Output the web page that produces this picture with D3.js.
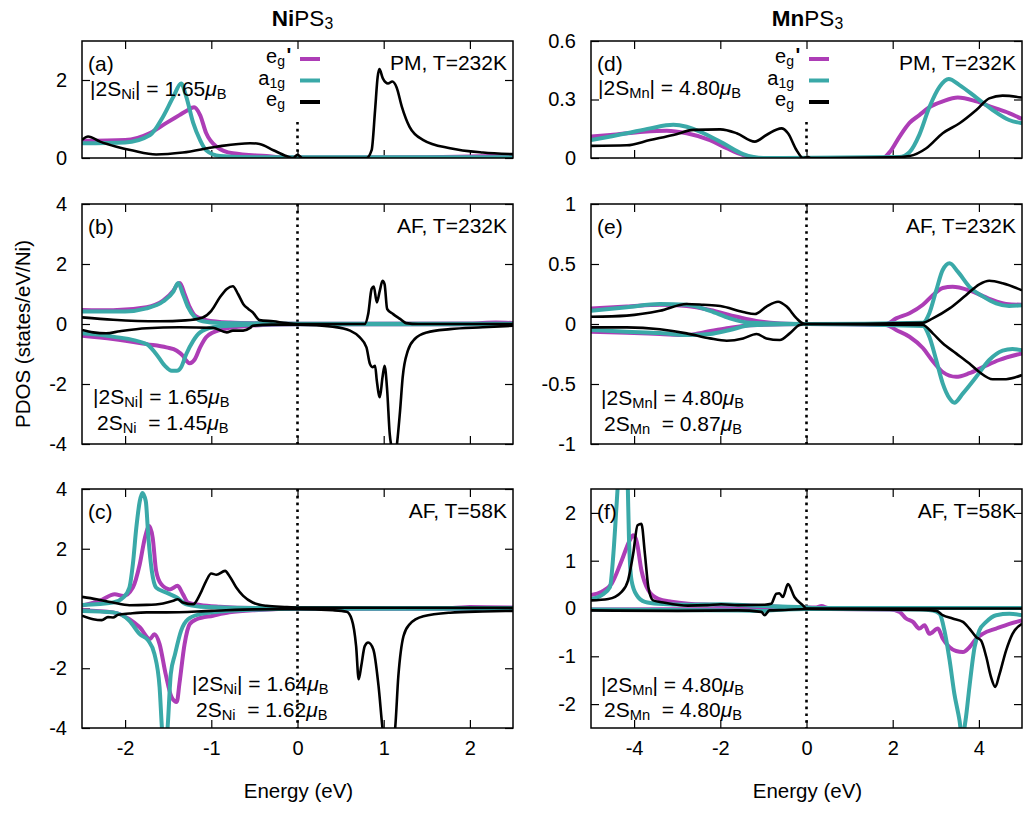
<!DOCTYPE html>
<html><head><meta charset="utf-8">
<script src="https://cdn.jsdelivr.net/npm/d3@7"></script>
<style>body{margin:0;background:#fff} svg{font-family:"Liberation Sans",Arial,Helvetica,sans-serif}</style>
</head><body><svg id="chart" width="1024" height="813"></svg>
<script>
// ---------- tick labels ----------
const niXTicks = [-2, -1, 0, 1, 2];
const mnXTicks = [-4, -2, 0, 2, 4];
const aYTicks = [0, 2];
const bYTicks = [-4, -2, 0, 2, 4];
const cYTicks = [-4, -2, 0, 2, 4];
const dYTicks = [0, 0.3, 0.6];
const eYTicks = [-1, -0.5, 0, 0.5, 1];
const fYTicks = [-2, -1, 0, 1, 2];
const seriesNames = ["e_g'", "a_1g", "e_g"];

// ---------- (a) NiPS3 PM T=232K ----------
const a_egp = [[-2.5,0.44],[-2.0,0.46],[-1.71,0.64],[-1.52,0.9],[-1.37,1.1],[-1.28,1.22],[-1.2,1.3],[-1.13,1.1],[-1.06,0.64],[-0.94,0.29],[-0.75,0.12],[-0.36,0.05],[-0.1,0.01],[0.5,0.01],[1.5,0.02],[2.0,0.04],[2.5,0.06]];
const a_a1g = [[-2.5,0.38],[-2.0,0.4],[-1.71,0.59],[-1.56,1.06],[-1.44,1.57],[-1.35,1.91],[-1.29,1.57],[-1.21,0.9],[-1.13,0.46],[-1.06,0.2],[-0.9,0.05],[-0.5,0.02],[2.5,0.02]];
const a_eg = [[-2.5,0.46],[-2.43,0.55],[-2.29,0.42],[-2.1,0.29],[-1.91,0.19],[-1.64,0.09],[-1.33,0.14],[-0.94,0.29],[-0.55,0.38],[-0.44,0.36],[-0.28,0.2],[-0.13,0.05],[-0.05,0.0],[0.0,0.08],[0.06,0.0],[0.8,0.0],[0.86,0.2],[0.9,1.23],[0.93,2.08],[0.95,2.28],[0.99,2.04],[1.05,1.91],[1.1,1.96],[1.15,1.81],[1.21,1.32],[1.3,0.8],[1.46,0.46],[1.77,0.25],[2.15,0.14],[2.5,0.1]];

// ---------- (b) NiPS3 AF T=232K ----------
const b_egp_up = [[-2.5,0.47],[-2.14,0.46],[-1.75,0.56],[-1.56,0.78],[-1.44,1.11],[-1.39,1.33],[-1.365,1.37],[-1.31,1.0],[-1.25,0.56],[-1.19,0.28],[-1.06,0.13],[-0.79,0.05],[-0.4,0.02],[0,0.01],[2.0,0.02],[2.3,0.05],[2.5,0.03]];
const b_a1g_up = [[-2.5,0.42],[-2.0,0.42],[-1.75,0.52],[-1.56,0.75],[-1.44,1.08],[-1.385,1.37],[-1.33,1.0],[-1.27,0.56],[-1.19,0.22],[-1.1,0.09],[-0.9,0.03],[0,0.01],[2.5,0.01]];
const b_eg_up = [[-2.5,0.22],[-2.14,0.14],[-1.6,0.09],[-1.3,0.12],[-1.1,0.22],[-1.0,0.44],[-0.9,0.89],[-0.82,1.17],[-0.75,1.26],[-0.69,1.0],[-0.63,0.67],[-0.57,0.5],[-0.52,0.39],[-0.44,0.13],[-0.28,0.09],[-0.13,0.03],[0.0,0.0],[0.78,0.0],[0.82,0.33],[0.86,1.17],[0.885,1.25],[0.92,0.72],[0.955,1.11],[0.986,1.44],[1.01,1.33],[1.04,0.5],[1.11,0.33],[1.19,0.17],[1.26,0.03],[1.4,0.0],[2.5,0.0]];
const b_egp_dn = [[-2.5,-0.39],[-2.14,-0.5],[-1.75,-0.67],[-1.52,-0.78],[-1.4,-0.89],[-1.33,-1.06],[-1.29,-1.22],[-1.25,-1.31],[-1.19,-1.17],[-1.13,-0.78],[-1.06,-0.44],[-0.98,-0.28],[-0.79,-0.13],[-0.59,-0.07],[-0.4,-0.03],[0,-0.01],[2.5,-0.01]];
const b_a1g_dn = [[-2.5,-0.31],[-2.14,-0.42],[-1.75,-0.67],[-1.64,-1.0],[-1.54,-1.39],[-1.46,-1.56],[-1.4,-1.56],[-1.35,-1.44],[-1.29,-1.0],[-1.21,-0.56],[-1.13,-0.28],[-0.98,-0.11],[-0.79,-0.06],[-0.5,-0.02],[0,-0.01],[2.5,-0.01]];
const b_eg_dn = [[-2.5,-0.2],[-2.37,-0.28],[-2.22,-0.31],[-2.06,-0.24],[-1.75,-0.14],[-1.37,-0.11],[-0.98,-0.13],[-0.82,-0.28],[-0.75,-0.22],[-0.63,-0.22],[-0.55,-0.13],[-0.52,-0.06],[-0.3,-0.02],[0.03,-0.02],[0.41,-0.09],[0.61,-0.22],[0.72,-0.44],[0.8,-0.78],[0.84,-1.33],[0.87,-1.44],[0.9,-1.39],[0.92,-1.89],[0.955,-2.44],[0.986,-1.78],[1.01,-1.39],[1.04,-2.2],[1.07,-3.67],[1.09,-4.1],[1.12,-4.6],[1.15,-4.1],[1.19,-2.89],[1.22,-1.78],[1.28,-0.89],[1.36,-0.5],[1.5,-0.28],[1.77,-0.17],[2.15,-0.11],[2.5,-0.06]];

// ---------- (c) NiPS3 AF T=58K ----------
const c_egp_up = [[-2.5,0.1],[-2.29,0.26],[-2.12,0.48],[-2.02,0.42],[-1.91,0.7],[-1.83,1.48],[-1.77,2.37],[-1.72,2.76],[-1.68,2.37],[-1.64,1.26],[-1.58,0.81],[-1.48,0.64],[-1.39,0.76],[-1.33,0.48],[-1.27,0.2],[-1.13,0.12],[-0.9,0.06],[-0.5,0.02],[1.8,0.02],[2.0,0.05],[2.5,0.03]];
const c_a1g_up = [[-2.5,0.12],[-2.14,0.2],[-2.02,0.37],[-1.95,0.7],[-1.91,1.48],[-1.87,2.7],[-1.83,3.59],[-1.8,3.87],[-1.76,3.59],[-1.73,2.37],[-1.69,1.26],[-1.64,0.7],[-1.52,0.53],[-1.4,0.37],[-1.29,0.14],[-1.06,0.05],[-0.5,0.02],[2.5,0.02]];
const c_eg_up = [[-2.5,0.39],[-2.33,0.31],[-2.14,0.2],[-1.95,0.11],[-1.75,0.12],[-1.56,0.17],[-1.44,0.26],[-1.39,0.31],[-1.33,0.2],[-1.21,0.14],[-1.13,0.48],[-1.06,0.92],[-1.0,1.17],[-0.94,1.13],[-0.84,1.26],[-0.79,1.09],[-0.71,0.7],[-0.63,0.42],[-0.52,0.2],[-0.36,0.09],[-0.15,0.05],[0.03,0.03],[2.5,0.02]];
const c_egp_dn = [[-2.5,-0.06],[-2.14,-0.13],[-1.95,-0.36],[-1.83,-0.63],[-1.71,-1.02],[-1.66,-0.86],[-1.6,-1.19],[-1.53,-2.19],[-1.46,-2.97],[-1.4,-3.13],[-1.37,-2.52],[-1.31,-1.19],[-1.25,-0.52],[-1.17,-0.36],[-0.98,-0.24],[-0.79,-0.13],[-0.45,-0.05],[0,-0.01],[2.5,-0.01]];
const c_a1g_dn = [[-2.5,-0.08],[-2.14,-0.13],[-1.95,-0.41],[-1.83,-0.86],[-1.73,-1.08],[-1.66,-1.52],[-1.6,-2.63],[-1.57,-4.1],[-1.54,-4.6],[-1.51,-4.1],[-1.47,-2.19],[-1.42,-1.52],[-1.35,-0.74],[-1.27,-0.36],[-1.13,-0.19],[-0.9,-0.1],[-0.6,-0.05],[0,-0.01],[2.5,-0.01]];
const c_eg_dn = [[-2.5,-0.24],[-2.37,-0.36],[-2.27,-0.39],[-2.2,-0.29],[-2.14,-0.3],[-2.08,-0.21],[-1.95,-0.17],[-1.75,-0.13],[-1.52,-0.13],[-1.0,-0.08],[-0.5,-0.03],[0.0,-0.02],[0.41,-0.06],[0.57,-0.11],[0.63,-0.37],[0.68,-1.26],[0.71,-2.37],[0.74,-1.92],[0.78,-1.26],[0.82,-1.14],[0.88,-1.37],[0.94,-2.59],[0.99,-4.1],[1.06,-5],[1.13,-4.1],[1.17,-2.26],[1.23,-0.92],[1.3,-0.53],[1.46,-0.26],[1.77,-0.14],[2.15,-0.1],[2.5,-0.08]];

// ---------- (d) MnPS3 PM T=232K ----------
const d_egp = [[-5,0.11],[-4.55,0.118],[-3.78,0.135],[-3.24,0.14],[-2.78,0.127],[-2.24,0.092],[-1.85,0.05],[-1.47,0.015],[-1.08,0.0],[1.77,0.0],[1.93,0.03],[2.16,0.11],[2.39,0.18],[2.62,0.22],[2.85,0.26],[3.16,0.29],[3.51,0.31],[3.94,0.29],[4.32,0.26],[4.7,0.23],[5,0.2]];
const d_a1g = [[-5,0.092],[-4.17,0.127],[-3.63,0.152],[-3.09,0.17],[-2.78,0.16],[-2.39,0.127],[-1.93,0.075],[-1.47,0.02],[-1.0,0.0],[2.16,0.005],[2.39,0.03],[2.62,0.12],[2.85,0.26],[3.09,0.366],[3.3,0.405],[3.55,0.374],[3.94,0.31],[4.32,0.246],[4.7,0.195],[5,0.178]];
const d_eg = [[-5,0.062],[-4.17,0.065],[-3.63,0.092],[-3.09,0.118],[-2.62,0.144],[-2.0,0.147],[-1.62,0.127],[-1.2,0.084],[-0.93,0.118],[-0.58,0.152],[-0.43,0.127],[-0.23,0.04],[-0.08,0.0],[0.04,0.005],[0.1,0.0],[2.0,0.003],[2.39,0.01],[2.78,0.05],[3.16,0.127],[3.55,0.178],[3.94,0.246],[4.24,0.306],[4.55,0.32],[5,0.31]];

// ---------- (e) MnPS3 AF T=232K ----------
const e_egp_up = [[-5,0.13],[-4.17,0.145],[-3.4,0.16],[-2.78,0.15],[-2.24,0.117],[-1.62,0.06],[-1.08,0.02],[-0.6,0.005],[0,0],[1.85,0.0],[2.08,0.047],[2.39,0.09],[2.7,0.16],[2.93,0.24],[3.16,0.3],[3.39,0.31],[3.78,0.28],[4.24,0.21],[4.63,0.167],[5,0.16]];
const e_a1g_up = [[-5,0.11],[-4.17,0.14],[-3.4,0.167],[-2.78,0.16],[-2.24,0.11],[-1.78,0.047],[-1.31,0.01],[0,0],[2.7,0.01],[2.85,0.09],[3.01,0.28],[3.16,0.45],[3.32,0.506],[3.51,0.436],[3.78,0.31],[4.09,0.23],[4.4,0.172],[4.7,0.15],[5,0.157]];
const e_eg_up = [[-5,0.06],[-4.17,0.07],[-3.4,0.11],[-2.78,0.167],[-2.39,0.16],[-2.0,0.15],[-1.47,0.1],[-1.2,0.083],[-0.93,0.145],[-0.66,0.186],[-0.46,0.145],[-0.23,0.047],[-0.08,0.005],[0,0],[2.7,0.01],[2.93,0.047],[3.32,0.13],[3.7,0.24],[4.01,0.33],[4.24,0.36],[4.55,0.34],[5,0.28]];
const e_egp_dn = [[-5,-0.064],[-4.17,-0.072],[-3.4,-0.083],[-2.78,-0.092],[-2.39,-0.07],[-1.85,-0.036],[-1.3,-0.01],[0,0],[1.85,-0.008],[2.08,-0.05],[2.39,-0.106],[2.7,-0.2],[2.93,-0.31],[3.16,-0.4],[3.47,-0.44],[3.78,-0.41],[4.09,-0.36],[4.47,-0.3],[5,-0.245]];
const e_a1g_dn = [[-5,-0.05],[-4.17,-0.064],[-3.4,-0.075],[-2.78,-0.092],[-2.24,-0.083],[-1.78,-0.05],[-1.3,-0.01],[0,0],[2.7,-0.017],[2.85,-0.106],[3.01,-0.3],[3.16,-0.494],[3.32,-0.62],[3.43,-0.656],[3.63,-0.578],[3.94,-0.44],[4.24,-0.3],[4.55,-0.222],[4.78,-0.208],[5,-0.22]];
const e_eg_dn = [[-5,-0.028],[-4.17,-0.028],[-3.4,-0.044],[-2.78,-0.078],[-2.24,-0.12],[-1.85,-0.139],[-1.47,-0.12],[-1.16,-0.083],[-0.93,-0.12],[-0.62,-0.133],[-0.39,-0.078],[-0.16,-0.008],[0,0],[2.7,-0.008],[2.93,-0.078],[3.16,-0.16],[3.47,-0.245],[3.78,-0.33],[4.01,-0.4],[4.32,-0.46],[4.63,-0.46],[5,-0.425]];

// ---------- (f) MnPS3 AF T=58K ----------
const f_egp_up = [[-5,0.28],[-4.75,0.35],[-4.52,0.52],[-4.29,1.0],[-4.1,1.43],[-4.02,1.53],[-3.94,1.4],[-3.83,0.8],[-3.67,0.38],[-3.44,0.2],[-3.13,0.14],[-2.75,0.1],[-2.2,0.08],[-1.2,0.06],[-0.1,0.02],[0.2,0.02],[0.35,0.05],[0.5,0.01],[5,0.01]];
const f_a1g_up = [[-5,0.2],[-4.75,0.28],[-4.56,0.45],[-4.48,1.15],[-4.41,2.12],[-4.37,2.7],[-4.26,4.5],[-4.15,2.7],[-4.12,1.5],[-4.06,0.59],[-3.94,0.28],[-3.75,0.14],[-3.44,0.1],[-2.75,0.08],[-2.0,0.09],[-1.2,0.06],[-0.9,0.05],[-0.1,0.03],[0.2,0.01],[5,0.01]];
const f_eg_up = [[-5,0.17],[-4.6,0.2],[-4.29,0.35],[-4.14,0.59],[-4.02,1.15],[-3.92,1.74],[-3.83,1.77],[-3.75,1.15],[-3.67,0.45],[-3.56,0.17],[-3.29,0.12],[-2.75,0.06],[-2.3,0.07],[-1.98,0.09],[-1.59,0.07],[-0.97,0.08],[-0.82,0.1],[-0.7,0.31],[-0.63,0.32],[-0.55,0.24],[-0.43,0.51],[-0.28,0.24],[-0.09,0.07],[0,0.0],[5,0.0]];
const f_egp_dn = [[-5,-0.02],[0,-0.01],[1.93,-0.02],[2.16,-0.07],[2.31,-0.21],[2.47,-0.28],[2.62,-0.42],[2.74,-0.35],[2.85,-0.53],[3.05,-0.42],[3.16,-0.63],[3.32,-0.81],[3.47,-0.89],[3.63,-0.91],[3.78,-0.81],[3.94,-0.63],[4.09,-0.53],[4.4,-0.42],[4.71,-0.32],[5,-0.25]];
const f_a1g_dn = [[-5,-0.02],[-1.5,-0.04],[-1.0,-0.05],[-0.5,-0.02],[0,-0.01],[2.62,-0.02],[2.93,-0.04],[3.09,-0.11],[3.2,-0.46],[3.32,-1.08],[3.43,-1.78],[3.55,-2.34],[3.61,-2.7],[3.69,-2.34],[3.78,-1.64],[3.9,-0.81],[4.01,-0.46],[4.17,-0.28],[4.4,-0.14],[4.71,-0.11],[5,-0.14]];
const f_eg_dn = [[-5,-0.04],[-3,-0.05],[-1.59,-0.04],[-1.05,-0.07],[-0.97,-0.14],[-0.86,-0.04],[-0.5,-0.03],[0,-0.01],[2.7,-0.03],[3.01,-0.05],[3.16,-0.14],[3.39,-0.21],[3.63,-0.28],[3.78,-0.42],[3.94,-0.6],[4.05,-0.67],[4.17,-1.01],[4.28,-1.43],[4.38,-1.64],[4.47,-1.4],[4.63,-0.88],[4.78,-0.53],[5,-0.32]];

// ---------- styles ----------
const COL = { egp: "#ad3db6", a1g: "#3aa9a8", eg: "#000000" };
const WID = { egp: 4, a1g: 4, eg: 2.6 };
const FS = { tick: 20, label: 21, key: 20, note: 21, title: 22.5, axis: 20.5 };

const svg = d3.select("#chart");
const L = { x0: 82, x1: 513 }, R = { x0: 591, x1: 1022 };
const ROWS = [{ y0: 41, y1: 158 }, { y0: 204, y1: 444 }, { y0: 489, y1: 728 }];

const panels = [
  { id: "a", col: L, row: ROWS[0], xd: [-2.5, 2.5], yd: [0, 3], xt: niXTicks, yt: aYTicks, xlab: false, key: true, state: "PM, T=232K",
    lines: [["egp", a_egp], ["a1g", a_a1g], ["eg", a_eg]],
    notes: [{ dx: 8, y: 96, parts: [["|2S"], ["Ni", "s"], ["| = 1.65"], ["μ", "i"], ["B", "s"]] }] },
  { id: "b", col: L, row: ROWS[1], xd: [-2.5, 2.5], yd: [-4, 4], xt: niXTicks, yt: bYTicks, xlab: false, state: "AF, T=232K",
    lines: [["egp", b_egp_up], ["egp", b_egp_dn], ["a1g", b_a1g_up], ["a1g", b_a1g_dn], ["eg", b_eg_up], ["eg", b_eg_dn]],
    notes: [{ dx: 11, y: 404, parts: [["|2S"], ["Ni", "s"], ["| = 1.65"], ["μ", "i"], ["B", "s"]] },
            { dx: 15, y: 430, parts: [["2S"], ["Ni", "s"], ["  = 1.45"], ["μ", "i"], ["B", "s"]] }] },
  { id: "c", col: L, row: ROWS[2], xd: [-2.5, 2.5], yd: [-4, 4], xt: niXTicks, yt: cYTicks, xlab: true, state: "AF, T=58K",
    lines: [["egp", c_egp_up], ["egp", c_egp_dn], ["a1g", c_a1g_up], ["a1g", c_a1g_dn], ["eg", c_eg_up], ["eg", c_eg_dn]],
    notes: [{ dx: 110, y: 691, parts: [["|2S"], ["Ni", "s"], ["| = 1.64"], ["μ", "i"], ["B", "s"]] },
            { dx: 114, y: 717, parts: [["2S"], ["Ni", "s"], ["  = 1.62"], ["μ", "i"], ["B", "s"]] }] },
  { id: "d", col: R, row: ROWS[0], xd: [-5, 5], yd: [0, 0.6], xt: mnXTicks, yt: dYTicks, xlab: false, key: true, state: "PM, T=232K",
    lines: [["egp", d_egp], ["a1g", d_a1g], ["eg", d_eg]],
    notes: [{ dx: 7, y: 95, parts: [["|2S"], ["Mn", "s"], ["| = 4.80"], ["μ", "i"], ["B", "s"]] }] },
  { id: "e", col: R, row: ROWS[1], xd: [-5, 5], yd: [-1, 1], xt: mnXTicks, yt: eYTicks, xlab: false, state: "AF, T=232K",
    lines: [["egp", e_egp_up], ["egp", e_egp_dn], ["a1g", e_a1g_up], ["a1g", e_a1g_dn], ["eg", e_eg_up], ["eg", e_eg_dn]],
    notes: [{ dx: 10, y: 405, parts: [["|2S"], ["Mn", "s"], ["| = 4.80"], ["μ", "i"], ["B", "s"]] },
            { dx: 13, y: 431, parts: [["2S"], ["Mn", "s"], ["  = 0.87"], ["μ", "i"], ["B", "s"]] }] },
  { id: "f", col: R, row: ROWS[2], xd: [-5, 5], yd: [-2.5, 2.5], xt: mnXTicks, yt: fYTicks, xlab: true, state: "AF, T=58K",
    lines: [["egp", f_egp_up], ["egp", f_egp_dn], ["a1g", f_a1g_up], ["a1g", f_a1g_dn], ["eg", f_eg_up], ["eg", f_eg_dn]],
    notes: [{ dx: 10, y: 692, parts: [["|2S"], ["Mn", "s"], ["| = 4.80"], ["μ", "i"], ["B", "s"]] },
            { dx: 13, y: 717, parts: [["2S"], ["Mn", "s"], ["  = 4.80"], ["μ", "i"], ["B", "s"]] }] }
];

function richText(g, x, y, parts, size, anchor) {
  const t = g.append("text").attr("x", x).attr("y", y).attr("font-size", size)
    .attr("text-anchor", anchor || "start").attr("xml:space", "preserve").style("white-space", "pre");
  let shift = 0;
  parts.forEach(([s, m]) => {
    const ts = t.append("tspan").text(s);
    const target = m === "s" ? 3 : 0;
    ts.attr("dy", target - shift); shift = target;
    if (m === "s") ts.attr("font-size", size * 0.7);
    if (m === "i") ts.attr("font-style", "italic");
    if (m === "b") ts.attr("font-weight", "bold");
  });
  return t;
}

panels.forEach(p => {
  const x = d3.scaleLinear().domain(p.xd).range([p.col.x0, p.col.x1]);
  const y = d3.scaleLinear().domain(p.yd).range([p.row.y1, p.row.y0]);
  const g = svg.append("g");
  const cid = "clip-" + p.id;
  svg.append("clipPath").attr("id", cid).append("rect")
    .attr("x", p.col.x0).attr("y", p.row.y0).attr("width", p.col.x1 - p.col.x0).attr("height", p.row.y1 - p.row.y0);

  // axes (ticks inward, mirrored)
  const tl = 8;
  const axB = d3.axisBottom(x).tickValues(p.xt).tickSize(-tl).tickPadding(13)
    .tickFormat(p.xlab ? (v => String(v)) : "");
  const axT = d3.axisTop(x).tickValues(p.xt).tickSize(-tl).tickFormat("");
  const axL = d3.axisLeft(y).tickValues(p.yt).tickSize(-tl).tickPadding(15).tickFormat(v => String(v));
  const axR = d3.axisRight(y).tickValues(p.yt).tickSize(-tl).tickFormat("");
  [[axB, `translate(0,${p.row.y1})`], [axT, `translate(0,${p.row.y0})`], [axL, `translate(${p.col.x0},0)`], [axR, `translate(${p.col.x1},0)`]]
    .forEach(([ax, tr]) => {
      const a = g.append("g").attr("transform", tr).call(ax);
      a.select(".domain").remove();
      a.selectAll(".tick line").attr("stroke", "#000").attr("stroke-width", 1.2);
      a.selectAll(".tick text").attr("font-size", FS.tick).attr("fill", "#000")
        .attr("font-family", '"Liberation Sans", Arial, sans-serif');
    });

  // zero dotted line
  const dotTop = p.key ? p.row.y0 + 81 : p.row.y0;
  g.append("line").attr("x1", x(0)).attr("x2", x(0)).attr("y1", dotTop).attr("y2", p.row.y1)
    .attr("stroke", "#000").attr("stroke-width", 2.6).attr("stroke-dasharray", "2.6,4.2");

  // curves
  const line = d3.line().x(d => x(d[0])).y(d => y(d[1])).curve(d3.curveMonotoneX);
  const lg = g.append("g").attr("clip-path", `url(#${cid})`);
  ["egp", "a1g", "eg"].forEach(k => {
    p.lines.filter(l => l[0] === k).forEach(l => {
      lg.append("path").datum(l[1]).attr("d", line).attr("fill", "none")
        .attr("stroke", COL[k]).attr("stroke-width", WID[k]).attr("stroke-linejoin", "round");
    });
  });

  // frame
  g.append("rect").attr("x", p.col.x0).attr("y", p.row.y0).attr("width", p.col.x1 - p.col.x0)
    .attr("height", p.row.y1 - p.row.y0).attr("fill", "none").attr("stroke", "#000").attr("stroke-width", 1.5);

  // labels
  g.append("text").attr("x", p.col.x0 + 6).attr("y", p.row.y0 + 30).attr("font-size", FS.label).text("(" + p.id + ")");
  g.append("text").attr("x", p.col.x1 - 6).attr("y", p.row.y0 + 29).attr("font-size", FS.label)
    .attr("text-anchor", "end").text(p.state);
  p.notes.forEach(n => richText(g, p.col.x0 + n.dx, n.y, n.parts, FS.note));

  // key
  if (p.key) {
    const keyParts = [
      [["e"], ["g", "s"]],
      [["a"], ["1g", "s"]],
      [["e"], ["g", "s"]]
    ];
    ["egp", "a1g", "eg"].forEach((k, i) => {
      const ly = p.row.y0 + 18 + i * 21.5;
      richText(g, p.col.x0 + 203, ly + 4, keyParts[i], FS.key, "end");
      g.append("line").attr("x1", p.col.x0 + 218).attr("x2", p.col.x0 + 238).attr("y1", ly).attr("y2", ly)
        .attr("stroke", COL[k]).attr("stroke-width", WID.egp);
    });
    // prime of e_g'
    g.append("text").attr("x", p.col.x0 + 204.5).attr("y", p.row.y0 + 21).attr("font-size", FS.key)
      .attr("font-weight", "bold").attr("text-anchor", "start").text("'");
  }

  if (p.xlab) {
    g.append("text").attr("x", (p.col.x0 + p.col.x1) / 2 + 1).attr("y", 798).attr("font-size", FS.axis)
      .attr("text-anchor", "middle").text("Energy (eV)");
  }
});

// titles
richText(svg, (L.x0 + L.x1) / 2 + 5, 26, [["Ni", "b"], ["PS"], ["3", "s"]], FS.title, "middle");
richText(svg, (R.x0 + R.x1) / 2 + 1, 26, [["Mn", "b"], ["PS"], ["3", "s"]], FS.title, "middle");
// y label
svg.append("text").attr("transform", "translate(30,334) rotate(-90)").attr("font-size", FS.axis)
  .attr("text-anchor", "middle").text("PDOS (states/eV/Ni)");
</script>
</body></html>
